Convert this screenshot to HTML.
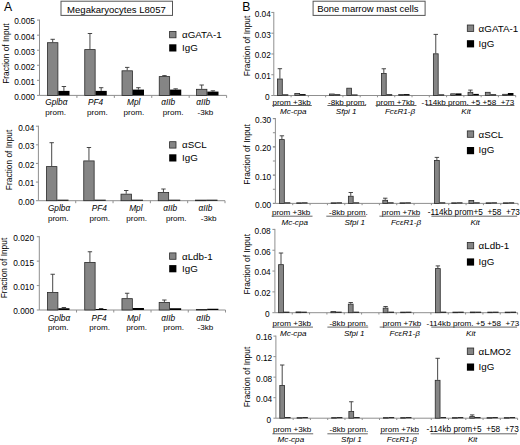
<!DOCTYPE html>
<html><head><meta charset="utf-8"><style>
html,body{margin:0;padding:0;background:#fff;}
body{width:520px;height:445px;overflow:hidden;}
svg{display:block;}
svg text{font-family:"Liberation Sans", sans-serif;fill:#000;white-space:pre;}
</style></head><body>
<svg width="520" height="445" viewBox="0 0 520 445" xml:space="preserve">
<rect width="520" height="445" fill="#fff"/>
<text x="3.9" y="11.4" font-size="12.2" text-anchor="start" >A</text>
<rect x="61" y="1.2" width="111.5" height="14.2" fill="none" stroke="#555" stroke-width="1"/>
<text x="67.1" y="12.9" font-size="9.55" text-anchor="start" >Megakaryocytes L8057</text>
<line x1="39.5" y1="19.6" x2="39.5" y2="95.4" stroke="#8f8f8f" stroke-width="1"/>
<line x1="37.0" y1="95.4" x2="39.5" y2="95.4" stroke="#8f8f8f" stroke-width="1"/>
<text x="34.9" y="99.799" font-size="8.3" text-anchor="end" >0.000</text>
<line x1="37.0" y1="80.34" x2="39.5" y2="80.34" stroke="#8f8f8f" stroke-width="1"/>
<text x="34.9" y="84.739" font-size="8.3" text-anchor="end" >0.001</text>
<line x1="37.0" y1="65.28" x2="39.5" y2="65.28" stroke="#8f8f8f" stroke-width="1"/>
<text x="34.9" y="69.679" font-size="8.3" text-anchor="end" >0.002</text>
<line x1="37.0" y1="50.22" x2="39.5" y2="50.22" stroke="#8f8f8f" stroke-width="1"/>
<text x="34.9" y="54.619" font-size="8.3" text-anchor="end" >0.003</text>
<line x1="37.0" y1="35.16" x2="39.5" y2="35.16" stroke="#8f8f8f" stroke-width="1"/>
<text x="34.9" y="39.559" font-size="8.3" text-anchor="end" >0.004</text>
<line x1="37.0" y1="20.099999999999994" x2="39.5" y2="20.099999999999994" stroke="#8f8f8f" stroke-width="1"/>
<text x="34.9" y="24.498999999999995" font-size="8.3" text-anchor="end" >0.005</text>
<line x1="39.5" y1="95.4" x2="226.6" y2="95.4" stroke="#8f8f8f" stroke-width="1"/>
<line x1="76.92" y1="95.4" x2="76.92" y2="97.9" stroke="#8f8f8f" stroke-width="1"/>
<line x1="114.34" y1="95.4" x2="114.34" y2="97.9" stroke="#8f8f8f" stroke-width="1"/>
<line x1="151.76" y1="95.4" x2="151.76" y2="97.9" stroke="#8f8f8f" stroke-width="1"/>
<line x1="189.18" y1="95.4" x2="189.18" y2="97.9" stroke="#8f8f8f" stroke-width="1"/>
<line x1="226.60000000000002" y1="95.4" x2="226.60000000000002" y2="97.9" stroke="#8f8f8f" stroke-width="1"/>
<line x1="52.7" y1="39.3" x2="52.7" y2="42.3" stroke="#333" stroke-width="0.9"/>
<line x1="50.5" y1="39.3" x2="54.900000000000006" y2="39.3" stroke="#333" stroke-width="0.9"/>
<rect x="47.50" y="42.70" width="10.40" height="52.70" fill="#858585" stroke="#2a2a2a" stroke-width="0.8"/>
<line x1="63.9" y1="86.5" x2="63.9" y2="90.9" stroke="#333" stroke-width="0.9"/>
<line x1="61.699999999999996" y1="86.5" x2="66.1" y2="86.5" stroke="#333" stroke-width="0.9"/>
<rect x="58.30" y="90.90" width="11.20" height="4.50" fill="#000"/>
<line x1="89.94999999999999" y1="33.5" x2="89.94999999999999" y2="49.2" stroke="#333" stroke-width="0.9"/>
<line x1="87.74999999999999" y1="33.5" x2="92.14999999999999" y2="33.5" stroke="#333" stroke-width="0.9"/>
<rect x="84.75" y="49.60" width="10.40" height="45.80" fill="#858585" stroke="#2a2a2a" stroke-width="0.8"/>
<line x1="101.14999999999999" y1="87.7" x2="101.14999999999999" y2="90.9" stroke="#333" stroke-width="0.9"/>
<line x1="98.94999999999999" y1="87.7" x2="103.35" y2="87.7" stroke="#333" stroke-width="0.9"/>
<rect x="95.55" y="90.90" width="11.20" height="4.50" fill="#000"/>
<line x1="127.19999999999999" y1="67.4" x2="127.19999999999999" y2="70.4" stroke="#333" stroke-width="0.9"/>
<line x1="124.99999999999999" y1="67.4" x2="129.39999999999998" y2="67.4" stroke="#333" stroke-width="0.9"/>
<rect x="122.00" y="70.80" width="10.40" height="24.60" fill="#858585" stroke="#2a2a2a" stroke-width="0.8"/>
<line x1="138.39999999999998" y1="87.7" x2="138.39999999999998" y2="89.6" stroke="#333" stroke-width="0.9"/>
<line x1="136.2" y1="87.7" x2="140.59999999999997" y2="87.7" stroke="#333" stroke-width="0.9"/>
<rect x="132.80" y="89.60" width="11.20" height="5.80" fill="#000"/>
<line x1="164.45" y1="75.6" x2="164.45" y2="76.2" stroke="#333" stroke-width="0.9"/>
<line x1="162.25" y1="75.6" x2="166.64999999999998" y2="75.6" stroke="#333" stroke-width="0.9"/>
<rect x="159.25" y="76.60" width="10.40" height="18.80" fill="#858585" stroke="#2a2a2a" stroke-width="0.8"/>
<line x1="175.64999999999998" y1="88.8" x2="175.64999999999998" y2="89.6" stroke="#333" stroke-width="0.9"/>
<line x1="173.45" y1="88.8" x2="177.84999999999997" y2="88.8" stroke="#333" stroke-width="0.9"/>
<rect x="170.05" y="89.60" width="11.20" height="5.80" fill="#000"/>
<line x1="201.7" y1="85.0" x2="201.7" y2="88.9" stroke="#333" stroke-width="0.9"/>
<line x1="199.5" y1="85.0" x2="203.89999999999998" y2="85.0" stroke="#333" stroke-width="0.9"/>
<rect x="196.50" y="89.30" width="10.40" height="6.10" fill="#858585" stroke="#2a2a2a" stroke-width="0.8"/>
<line x1="212.89999999999998" y1="90.8" x2="212.89999999999998" y2="91.6" stroke="#333" stroke-width="0.9"/>
<line x1="210.7" y1="90.8" x2="215.09999999999997" y2="90.8" stroke="#333" stroke-width="0.9"/>
<rect x="207.30" y="91.60" width="11.20" height="3.80" fill="#000"/>
<text x="0" y="0" font-size="8.4" text-anchor="middle" transform="translate(8.8,53.6) rotate(-90)">Fraction of Input</text>
<rect x="169.60" y="31.40" width="6.40" height="6.40" fill="#858585" stroke="#2a2a2a" stroke-width="0.8"/>
<rect x="169.20" y="44.30" width="7.20" height="7.20" fill="#000"/>
<text x="182.0" y="38.0" font-size="9.8" text-anchor="start" >&#945;GATA-1</text>
<text x="182.0" y="50.699999999999996" font-size="9.8" text-anchor="start" >IgG</text>
<text x="45.2" y="105" font-size="8.3" font-style="italic" text-anchor="start" >Gplb&#945;</text>
<text x="45.2" y="114.6" font-size="8.1" text-anchor="start" >prom.</text>
<text x="88.0" y="105" font-size="8.3" font-style="italic" text-anchor="start" >PF4</text>
<text x="87.0" y="114.6" font-size="8.1" text-anchor="start" >prom.</text>
<text x="127.0" y="105" font-size="8.3" font-style="italic" text-anchor="start" >Mpl</text>
<text x="123.6" y="114.6" font-size="8.1" text-anchor="start" >prom.</text>
<text x="161.2" y="105" font-size="8.3" font-style="italic" text-anchor="start" >&#945;IIb</text>
<text x="162.7" y="114.6" font-size="8.1" text-anchor="start" >prom.</text>
<text x="196.2" y="105" font-size="8.3" font-style="italic" text-anchor="start" >&#945;IIb</text>
<text x="197.6" y="114.6" font-size="8.1" text-anchor="start" >-3kb</text>
<line x1="38.4" y1="125.7" x2="38.4" y2="200.7" stroke="#8f8f8f" stroke-width="1"/>
<line x1="35.9" y1="200.7" x2="38.4" y2="200.7" stroke="#8f8f8f" stroke-width="1"/>
<text x="34.3" y="205.099" font-size="8.3" text-anchor="end" >0.00</text>
<line x1="35.9" y1="182.075" x2="38.4" y2="182.075" stroke="#8f8f8f" stroke-width="1"/>
<text x="34.3" y="186.474" font-size="8.3" text-anchor="end" >0.01</text>
<line x1="35.9" y1="163.45" x2="38.4" y2="163.45" stroke="#8f8f8f" stroke-width="1"/>
<text x="34.3" y="167.849" font-size="8.3" text-anchor="end" >0.02</text>
<line x1="35.9" y1="144.825" x2="38.4" y2="144.825" stroke="#8f8f8f" stroke-width="1"/>
<text x="34.3" y="149.224" font-size="8.3" text-anchor="end" >0.03</text>
<line x1="35.9" y1="126.2" x2="38.4" y2="126.2" stroke="#8f8f8f" stroke-width="1"/>
<text x="34.3" y="130.599" font-size="8.3" text-anchor="end" >0.04</text>
<line x1="38.4" y1="200.7" x2="225.0" y2="200.7" stroke="#8f8f8f" stroke-width="1"/>
<line x1="75.72" y1="200.7" x2="75.72" y2="203.2" stroke="#8f8f8f" stroke-width="1"/>
<line x1="113.03999999999999" y1="200.7" x2="113.03999999999999" y2="203.2" stroke="#8f8f8f" stroke-width="1"/>
<line x1="150.36" y1="200.7" x2="150.36" y2="203.2" stroke="#8f8f8f" stroke-width="1"/>
<line x1="187.68" y1="200.7" x2="187.68" y2="203.2" stroke="#8f8f8f" stroke-width="1"/>
<line x1="225.0" y1="200.7" x2="225.0" y2="203.2" stroke="#8f8f8f" stroke-width="1"/>
<line x1="51.7" y1="142.7" x2="51.7" y2="166.2" stroke="#333" stroke-width="0.9"/>
<line x1="49.5" y1="142.7" x2="53.900000000000006" y2="142.7" stroke="#333" stroke-width="0.9"/>
<rect x="46.50" y="166.60" width="10.40" height="34.10" fill="#858585" stroke="#2a2a2a" stroke-width="0.8"/>
<rect x="57.30" y="199.70" width="11.20" height="1.00" fill="#000"/>
<line x1="88.94999999999999" y1="147.5" x2="88.94999999999999" y2="160.5" stroke="#333" stroke-width="0.9"/>
<line x1="86.74999999999999" y1="147.5" x2="91.14999999999999" y2="147.5" stroke="#333" stroke-width="0.9"/>
<rect x="83.75" y="160.90" width="10.40" height="39.80" fill="#858585" stroke="#2a2a2a" stroke-width="0.8"/>
<rect x="94.55" y="199.70" width="11.20" height="1.00" fill="#000"/>
<line x1="126.19999999999999" y1="190.5" x2="126.19999999999999" y2="193.75" stroke="#333" stroke-width="0.9"/>
<line x1="123.99999999999999" y1="190.5" x2="128.39999999999998" y2="190.5" stroke="#333" stroke-width="0.9"/>
<rect x="121.00" y="194.15" width="10.40" height="6.55" fill="#858585" stroke="#2a2a2a" stroke-width="0.8"/>
<rect x="131.80" y="199.70" width="11.20" height="1.00" fill="#000"/>
<line x1="163.45" y1="189" x2="163.45" y2="192" stroke="#333" stroke-width="0.9"/>
<line x1="161.25" y1="189" x2="165.64999999999998" y2="189" stroke="#333" stroke-width="0.9"/>
<rect x="158.25" y="192.40" width="10.40" height="8.30" fill="#858585" stroke="#2a2a2a" stroke-width="0.8"/>
<rect x="169.05" y="199.70" width="11.20" height="1.00" fill="#000"/>
<rect x="195.50" y="200.10" width="10.40" height="0.60" fill="#858585" stroke="#2a2a2a" stroke-width="0.8"/>
<rect x="206.30" y="199.70" width="11.20" height="1.00" fill="#000"/>
<text x="0" y="0" font-size="8.4" text-anchor="middle" transform="translate(11.9,159.9) rotate(-90)">Fraction of Input</text>
<rect x="169.60" y="141.70" width="6.40" height="6.40" fill="#858585" stroke="#2a2a2a" stroke-width="0.8"/>
<rect x="169.20" y="154.30" width="7.20" height="7.20" fill="#000"/>
<text x="182.0" y="148.3" font-size="9.8" text-anchor="start" >&#945;SCL</text>
<text x="182.0" y="160.70000000000002" font-size="9.8" text-anchor="start" >IgG</text>
<text x="47.9" y="211.2" font-size="8.3" font-style="italic" text-anchor="start" >Gplb&#945;</text>
<text x="47.9" y="220.8" font-size="8.1" text-anchor="start" >prom.</text>
<text x="91.7" y="211.2" font-size="8.3" font-style="italic" text-anchor="start" >PF4</text>
<text x="89.4" y="220.8" font-size="8.1" text-anchor="start" >prom.</text>
<text x="129.2" y="211.2" font-size="8.3" font-style="italic" text-anchor="start" >Mpl</text>
<text x="126.2" y="220.8" font-size="8.1" text-anchor="start" >prom.</text>
<text x="163.2" y="211.2" font-size="8.3" font-style="italic" text-anchor="start" >&#945;IIb</text>
<text x="165.9" y="220.8" font-size="8.1" text-anchor="start" >prom.</text>
<text x="198.5" y="211.2" font-size="8.3" font-style="italic" text-anchor="start" >&#945;IIb</text>
<text x="200.8" y="220.8" font-size="8.1" text-anchor="start" >-3kb</text>
<line x1="39.3" y1="236.2" x2="39.3" y2="310.0" stroke="#8f8f8f" stroke-width="1"/>
<line x1="36.8" y1="310.0" x2="39.3" y2="310.0" stroke="#8f8f8f" stroke-width="1"/>
<text x="34.0" y="314.399" font-size="8.3" text-anchor="end" >0.000</text>
<line x1="36.8" y1="285.56666666666666" x2="39.3" y2="285.56666666666666" stroke="#8f8f8f" stroke-width="1"/>
<text x="34.0" y="289.96566666666666" font-size="8.3" text-anchor="end" >0.010</text>
<line x1="36.8" y1="261.1333333333333" x2="39.3" y2="261.1333333333333" stroke="#8f8f8f" stroke-width="1"/>
<text x="34.0" y="265.5323333333333" font-size="8.3" text-anchor="end" >0.015</text>
<line x1="36.8" y1="236.7" x2="39.3" y2="236.7" stroke="#8f8f8f" stroke-width="1"/>
<text x="34.0" y="241.099" font-size="8.3" text-anchor="end" >0.020</text>
<line x1="39.3" y1="310.0" x2="225.5" y2="310.0" stroke="#8f8f8f" stroke-width="1"/>
<line x1="76.53999999999999" y1="310.0" x2="76.53999999999999" y2="312.5" stroke="#8f8f8f" stroke-width="1"/>
<line x1="113.77999999999999" y1="310.0" x2="113.77999999999999" y2="312.5" stroke="#8f8f8f" stroke-width="1"/>
<line x1="151.01999999999998" y1="310.0" x2="151.01999999999998" y2="312.5" stroke="#8f8f8f" stroke-width="1"/>
<line x1="188.26" y1="310.0" x2="188.26" y2="312.5" stroke="#8f8f8f" stroke-width="1"/>
<line x1="225.5" y1="310.0" x2="225.5" y2="312.5" stroke="#8f8f8f" stroke-width="1"/>
<line x1="52.7" y1="274.25" x2="52.7" y2="292" stroke="#333" stroke-width="0.9"/>
<line x1="50.5" y1="274.25" x2="54.900000000000006" y2="274.25" stroke="#333" stroke-width="0.9"/>
<rect x="47.50" y="292.40" width="10.40" height="17.60" fill="#858585" stroke="#2a2a2a" stroke-width="0.8"/>
<line x1="63.9" y1="307.5" x2="63.9" y2="308.25" stroke="#333" stroke-width="0.9"/>
<line x1="61.699999999999996" y1="307.5" x2="66.1" y2="307.5" stroke="#333" stroke-width="0.9"/>
<rect x="58.30" y="308.25" width="11.20" height="1.75" fill="#000"/>
<line x1="89.91999999999999" y1="251.75" x2="89.91999999999999" y2="262" stroke="#333" stroke-width="0.9"/>
<line x1="87.71999999999998" y1="251.75" x2="92.11999999999999" y2="251.75" stroke="#333" stroke-width="0.9"/>
<rect x="84.72" y="262.40" width="10.40" height="47.60" fill="#858585" stroke="#2a2a2a" stroke-width="0.8"/>
<line x1="101.11999999999999" y1="308.5" x2="101.11999999999999" y2="309" stroke="#333" stroke-width="0.9"/>
<line x1="98.91999999999999" y1="308.5" x2="103.32" y2="308.5" stroke="#333" stroke-width="0.9"/>
<rect x="95.52" y="309.00" width="11.20" height="1.00" fill="#000"/>
<line x1="127.13999999999999" y1="293.25" x2="127.13999999999999" y2="298.25" stroke="#333" stroke-width="0.9"/>
<line x1="124.93999999999998" y1="293.25" x2="129.33999999999997" y2="293.25" stroke="#333" stroke-width="0.9"/>
<rect x="121.94" y="298.65" width="10.40" height="11.35" fill="#858585" stroke="#2a2a2a" stroke-width="0.8"/>
<rect x="132.74" y="308.00" width="11.20" height="2.00" fill="#000"/>
<line x1="164.35999999999999" y1="300" x2="164.35999999999999" y2="302" stroke="#333" stroke-width="0.9"/>
<line x1="162.16" y1="300" x2="166.55999999999997" y2="300" stroke="#333" stroke-width="0.9"/>
<rect x="159.16" y="302.40" width="10.40" height="7.60" fill="#858585" stroke="#2a2a2a" stroke-width="0.8"/>
<rect x="169.96" y="308.25" width="11.20" height="1.75" fill="#000"/>
<rect x="196.38" y="309.40" width="10.40" height="0.60" fill="#858585" stroke="#2a2a2a" stroke-width="0.8"/>
<rect x="207.18" y="308.75" width="11.20" height="1.25" fill="#000"/>
<text x="0" y="0" font-size="8.4" text-anchor="middle" transform="translate(7.0,268.0) rotate(-90)">Fraction of Input</text>
<rect x="169.60" y="252.90" width="6.40" height="6.40" fill="#858585" stroke="#2a2a2a" stroke-width="0.8"/>
<rect x="169.20" y="265.10" width="7.20" height="7.20" fill="#000"/>
<text x="182.0" y="259.5" font-size="9.8" text-anchor="start" >&#945;Ldb-1</text>
<text x="182.0" y="271.5" font-size="9.8" text-anchor="start" >IgG</text>
<text x="47.9" y="320.6" font-size="8.3" font-style="italic" text-anchor="start" >Gplb&#945;</text>
<text x="47.9" y="330.2" font-size="8.1" text-anchor="start" >prom.</text>
<text x="91.4" y="320.6" font-size="8.3" font-style="italic" text-anchor="start" >PF4</text>
<text x="89.3" y="330.2" font-size="8.1" text-anchor="start" >prom.</text>
<text x="126.9" y="320.6" font-size="8.3" font-style="italic" text-anchor="start" >Mpl</text>
<text x="126.2" y="330.2" font-size="8.1" text-anchor="start" >prom.</text>
<text x="161.2" y="320.6" font-size="8.3" font-style="italic" text-anchor="start" >&#945;IIb</text>
<text x="163.3" y="330.2" font-size="8.1" text-anchor="start" >prom.</text>
<text x="196.2" y="320.6" font-size="8.3" font-style="italic" text-anchor="start" >&#945;IIb</text>
<text x="197.6" y="330.2" font-size="8.1" text-anchor="start" >-3kb</text>
<text x="242.2" y="11.0" font-size="12.2" text-anchor="start" >B</text>
<rect x="313.1" y="1.2" width="112" height="14.2" fill="none" stroke="#555" stroke-width="1"/>
<text x="317.2" y="12.3" font-size="9.5" text-anchor="start" >Bone marrow mast cells</text>
<line x1="273.8" y1="11.95" x2="273.8" y2="95.5" stroke="#8f8f8f" stroke-width="1"/>
<line x1="271.3" y1="95.5" x2="273.8" y2="95.5" stroke="#8f8f8f" stroke-width="1"/>
<text x="269.6" y="99.899" font-size="8.3" text-anchor="end" >0</text>
<line x1="271.3" y1="74.7375" x2="273.8" y2="74.7375" stroke="#8f8f8f" stroke-width="1"/>
<text x="270.8" y="79.1365" font-size="8.3" text-anchor="end" >0.01</text>
<line x1="271.3" y1="53.975" x2="273.8" y2="53.975" stroke="#8f8f8f" stroke-width="1"/>
<text x="270.8" y="58.374" font-size="8.3" text-anchor="end" >0.02</text>
<line x1="271.3" y1="33.212500000000006" x2="273.8" y2="33.212500000000006" stroke="#8f8f8f" stroke-width="1"/>
<text x="270.8" y="37.61150000000001" font-size="8.3" text-anchor="end" >0.03</text>
<line x1="271.3" y1="12.450000000000003" x2="273.8" y2="12.450000000000003" stroke="#8f8f8f" stroke-width="1"/>
<text x="270.8" y="16.849000000000004" font-size="8.3" text-anchor="end" >0.04</text>
<line x1="273.8" y1="95.5" x2="515.7" y2="95.5" stroke="#8f8f8f" stroke-width="1"/>
<line x1="291.0785714285714" y1="95.5" x2="291.0785714285714" y2="97.3" stroke="#8f8f8f" stroke-width="1"/>
<line x1="308.3571428571429" y1="95.5" x2="308.3571428571429" y2="97.3" stroke="#8f8f8f" stroke-width="1"/>
<line x1="325.6357142857143" y1="95.5" x2="325.6357142857143" y2="97.3" stroke="#8f8f8f" stroke-width="1"/>
<line x1="342.9142857142857" y1="95.5" x2="342.9142857142857" y2="97.3" stroke="#8f8f8f" stroke-width="1"/>
<line x1="360.1928571428572" y1="95.5" x2="360.1928571428572" y2="97.3" stroke="#8f8f8f" stroke-width="1"/>
<line x1="377.4714285714286" y1="95.5" x2="377.4714285714286" y2="97.3" stroke="#8f8f8f" stroke-width="1"/>
<line x1="394.75" y1="95.5" x2="394.75" y2="97.3" stroke="#8f8f8f" stroke-width="1"/>
<line x1="412.02857142857147" y1="95.5" x2="412.02857142857147" y2="97.3" stroke="#8f8f8f" stroke-width="1"/>
<line x1="429.30714285714294" y1="95.5" x2="429.30714285714294" y2="97.3" stroke="#8f8f8f" stroke-width="1"/>
<line x1="446.58571428571435" y1="95.5" x2="446.58571428571435" y2="97.3" stroke="#8f8f8f" stroke-width="1"/>
<line x1="463.86428571428576" y1="95.5" x2="463.86428571428576" y2="97.3" stroke="#8f8f8f" stroke-width="1"/>
<line x1="481.1428571428572" y1="95.5" x2="481.1428571428572" y2="97.3" stroke="#8f8f8f" stroke-width="1"/>
<line x1="498.42142857142863" y1="95.5" x2="498.42142857142863" y2="97.3" stroke="#8f8f8f" stroke-width="1"/>
<line x1="515.7" y1="95.5" x2="515.7" y2="97.3" stroke="#8f8f8f" stroke-width="1"/>
<line x1="279.90000000000003" y1="68.7" x2="279.90000000000003" y2="78.6" stroke="#333" stroke-width="0.9"/>
<line x1="277.70000000000005" y1="68.7" x2="282.1" y2="68.7" stroke="#333" stroke-width="0.9"/>
<rect x="277.50" y="79.00" width="4.80" height="16.50" fill="#858585" stroke="#2a2a2a" stroke-width="0.8"/>
<rect x="282.70" y="94.40" width="5.60" height="1.10" fill="#000"/>
<rect x="294.82" y="93.50" width="4.80" height="2.00" fill="#858585" stroke="#2a2a2a" stroke-width="0.8"/>
<rect x="300.02" y="94.10" width="5.60" height="1.40" fill="#000"/>
<rect x="329.46" y="94.00" width="4.80" height="1.50" fill="#858585" stroke="#2a2a2a" stroke-width="0.8"/>
<rect x="334.66" y="94.30" width="5.60" height="1.20" fill="#000"/>
<rect x="346.78" y="88.20" width="4.80" height="7.30" fill="#858585" stroke="#2a2a2a" stroke-width="0.8"/>
<rect x="351.98" y="94.50" width="5.60" height="1.00" fill="#000"/>
<line x1="383.82000000000005" y1="68.75" x2="383.82000000000005" y2="73" stroke="#333" stroke-width="0.9"/>
<line x1="381.62000000000006" y1="68.75" x2="386.02000000000004" y2="68.75" stroke="#333" stroke-width="0.9"/>
<rect x="381.42" y="73.40" width="4.80" height="22.10" fill="#858585" stroke="#2a2a2a" stroke-width="0.8"/>
<rect x="386.62" y="94.30" width="5.60" height="1.20" fill="#000"/>
<rect x="398.74" y="94.50" width="4.80" height="1.00" fill="#858585" stroke="#2a2a2a" stroke-width="0.8"/>
<rect x="403.94" y="94.10" width="5.60" height="1.40" fill="#000"/>
<line x1="435.78000000000003" y1="34.4" x2="435.78000000000003" y2="53.4" stroke="#333" stroke-width="0.9"/>
<line x1="433.58000000000004" y1="34.4" x2="437.98" y2="34.4" stroke="#333" stroke-width="0.9"/>
<rect x="433.38" y="53.80" width="4.80" height="41.70" fill="#858585" stroke="#2a2a2a" stroke-width="0.8"/>
<rect x="438.58" y="94.40" width="5.60" height="1.10" fill="#000"/>
<rect x="450.70" y="93.80" width="4.80" height="1.70" fill="#858585" stroke="#2a2a2a" stroke-width="0.8"/>
<rect x="455.90" y="93.40" width="5.60" height="2.10" fill="#000"/>
<line x1="470.42" y1="90.1" x2="470.42" y2="91.89999999999999" stroke="#333" stroke-width="0.9"/>
<line x1="468.22" y1="90.1" x2="472.62" y2="90.1" stroke="#333" stroke-width="0.9"/>
<rect x="468.02" y="92.30" width="4.80" height="3.20" fill="#858585" stroke="#2a2a2a" stroke-width="0.8"/>
<rect x="473.22" y="93.90" width="5.60" height="1.60" fill="#000"/>
<rect x="485.34" y="92.30" width="4.80" height="3.20" fill="#858585" stroke="#2a2a2a" stroke-width="0.8"/>
<rect x="490.54" y="94.30" width="5.60" height="1.20" fill="#000"/>
<rect x="502.66" y="94.30" width="4.80" height="1.20" fill="#858585" stroke="#2a2a2a" stroke-width="0.8"/>
<rect x="507.86" y="93.00" width="5.60" height="2.50" fill="#000"/>
<text x="0" y="0" font-size="8.4" text-anchor="middle" transform="translate(250.1,45.9) rotate(-90)">Fraction of Input</text>
<rect x="467.30" y="25.00" width="6.40" height="6.40" fill="#858585" stroke="#2a2a2a" stroke-width="0.8"/>
<rect x="466.90" y="40.20" width="7.20" height="7.20" fill="#000"/>
<text x="478.6" y="31.6" font-size="9.8" text-anchor="start" >&#945;GATA-1</text>
<text x="478.6" y="46.6" font-size="9.8" text-anchor="start" >IgG</text>
<text x="272.4" y="105.0" font-size="8.1" text-anchor="start" >prom +3kb</text>
<line x1="272.3" y1="105.5" x2="311.8" y2="105.5" stroke="#555" stroke-width="0.9"/>
<text x="280.0" y="114.2" font-size="8.1" font-style="italic" text-anchor="start" >Mc-cpa</text>
<text x="328.0" y="105.0" font-size="8.1" text-anchor="start" >-8kb prom.</text>
<line x1="327.4" y1="105.5" x2="366.1" y2="105.5" stroke="#555" stroke-width="0.9"/>
<text x="335.8" y="114.2" font-size="8.1" font-style="italic" text-anchor="start" >Sfpi 1</text>
<text x="376.1" y="105.0" font-size="8.1" text-anchor="start" >prom +7kb</text>
<line x1="375.6" y1="105.5" x2="416.5" y2="105.5" stroke="#555" stroke-width="0.9"/>
<text x="384.9" y="114.2" font-size="8.1" font-style="italic" text-anchor="start" >Fc&#949;R1-&#946;</text>
<text x="421.6" y="105.0" font-size="8.1" text-anchor="start" >-114kb prom. +5 +58  +73</text>
<line x1="426.1" y1="105.5" x2="514.4" y2="105.5" stroke="#555" stroke-width="0.9"/>
<text x="461.3" y="114.2" font-size="8.1" font-style="italic" text-anchor="start" >Kit</text>
<line x1="272.9" y1="203.4" x2="275.4" y2="203.4" stroke="#8f8f8f" stroke-width="1"/>
<line x1="272.9" y1="189.26666666666668" x2="275.4" y2="189.26666666666668" stroke="#8f8f8f" stroke-width="1"/>
<line x1="272.9" y1="175.13333333333333" x2="275.4" y2="175.13333333333333" stroke="#8f8f8f" stroke-width="1"/>
<line x1="272.9" y1="161.0" x2="275.4" y2="161.0" stroke="#8f8f8f" stroke-width="1"/>
<line x1="272.9" y1="146.86666666666667" x2="275.4" y2="146.86666666666667" stroke="#8f8f8f" stroke-width="1"/>
<line x1="272.9" y1="132.73333333333335" x2="275.4" y2="132.73333333333335" stroke="#8f8f8f" stroke-width="1"/>
<line x1="272.9" y1="118.6" x2="275.4" y2="118.6" stroke="#8f8f8f" stroke-width="1"/>
<line x1="275.4" y1="118.1" x2="275.4" y2="203.4" stroke="#8f8f8f" stroke-width="1"/>
<line x1="272.9" y1="203.4" x2="275.4" y2="203.4" stroke="#8f8f8f" stroke-width="1"/>
<text x="271.2" y="207.799" font-size="8.3" text-anchor="end" >0.00</text>
<line x1="272.9" y1="175.13333333333333" x2="275.4" y2="175.13333333333333" stroke="#8f8f8f" stroke-width="1"/>
<text x="271.2" y="179.53233333333333" font-size="8.3" text-anchor="end" >0.10</text>
<line x1="272.9" y1="146.86666666666667" x2="275.4" y2="146.86666666666667" stroke="#8f8f8f" stroke-width="1"/>
<text x="271.2" y="151.26566666666668" font-size="8.3" text-anchor="end" >0.20</text>
<line x1="272.9" y1="118.6" x2="275.4" y2="118.6" stroke="#8f8f8f" stroke-width="1"/>
<text x="271.2" y="122.999" font-size="8.3" text-anchor="end" >0.30</text>
<line x1="275.4" y1="203.4" x2="518.1" y2="203.4" stroke="#8f8f8f" stroke-width="1"/>
<line x1="292.73571428571427" y1="203.4" x2="292.73571428571427" y2="205.20000000000002" stroke="#8f8f8f" stroke-width="1"/>
<line x1="310.07142857142856" y1="203.4" x2="310.07142857142856" y2="205.20000000000002" stroke="#8f8f8f" stroke-width="1"/>
<line x1="327.40714285714284" y1="203.4" x2="327.40714285714284" y2="205.20000000000002" stroke="#8f8f8f" stroke-width="1"/>
<line x1="344.74285714285713" y1="203.4" x2="344.74285714285713" y2="205.20000000000002" stroke="#8f8f8f" stroke-width="1"/>
<line x1="362.0785714285714" y1="203.4" x2="362.0785714285714" y2="205.20000000000002" stroke="#8f8f8f" stroke-width="1"/>
<line x1="379.4142857142857" y1="203.4" x2="379.4142857142857" y2="205.20000000000002" stroke="#8f8f8f" stroke-width="1"/>
<line x1="396.75" y1="203.4" x2="396.75" y2="205.20000000000002" stroke="#8f8f8f" stroke-width="1"/>
<line x1="414.0857142857143" y1="203.4" x2="414.0857142857143" y2="205.20000000000002" stroke="#8f8f8f" stroke-width="1"/>
<line x1="431.4214285714286" y1="203.4" x2="431.4214285714286" y2="205.20000000000002" stroke="#8f8f8f" stroke-width="1"/>
<line x1="448.75714285714287" y1="203.4" x2="448.75714285714287" y2="205.20000000000002" stroke="#8f8f8f" stroke-width="1"/>
<line x1="466.09285714285716" y1="203.4" x2="466.09285714285716" y2="205.20000000000002" stroke="#8f8f8f" stroke-width="1"/>
<line x1="483.42857142857144" y1="203.4" x2="483.42857142857144" y2="205.20000000000002" stroke="#8f8f8f" stroke-width="1"/>
<line x1="500.76428571428573" y1="203.4" x2="500.76428571428573" y2="205.20000000000002" stroke="#8f8f8f" stroke-width="1"/>
<line x1="518.1" y1="203.4" x2="518.1" y2="205.20000000000002" stroke="#8f8f8f" stroke-width="1"/>
<line x1="281.90000000000003" y1="135.8" x2="281.90000000000003" y2="139.2" stroke="#333" stroke-width="0.9"/>
<line x1="279.70000000000005" y1="135.8" x2="284.1" y2="135.8" stroke="#333" stroke-width="0.9"/>
<rect x="279.50" y="139.60" width="4.80" height="63.80" fill="#858585" stroke="#2a2a2a" stroke-width="0.8"/>
<rect x="284.70" y="202.40" width="5.60" height="1.00" fill="#000"/>
<rect x="296.72" y="202.80" width="4.80" height="0.60" fill="#858585" stroke="#2a2a2a" stroke-width="0.8"/>
<rect x="301.92" y="202.40" width="5.60" height="1.00" fill="#000"/>
<rect x="331.16" y="202.80" width="4.80" height="0.60" fill="#858585" stroke="#2a2a2a" stroke-width="0.8"/>
<rect x="336.36" y="202.40" width="5.60" height="1.00" fill="#000"/>
<line x1="350.78000000000003" y1="192.5" x2="350.78000000000003" y2="195.85" stroke="#333" stroke-width="0.9"/>
<line x1="348.58000000000004" y1="192.5" x2="352.98" y2="192.5" stroke="#333" stroke-width="0.9"/>
<rect x="348.38" y="196.25" width="4.80" height="7.15" fill="#858585" stroke="#2a2a2a" stroke-width="0.8"/>
<rect x="353.58" y="202.40" width="5.60" height="1.00" fill="#000"/>
<line x1="385.22" y1="198.2" x2="385.22" y2="199.9" stroke="#333" stroke-width="0.9"/>
<line x1="383.02000000000004" y1="198.2" x2="387.42" y2="198.2" stroke="#333" stroke-width="0.9"/>
<rect x="382.82" y="200.30" width="4.80" height="3.10" fill="#858585" stroke="#2a2a2a" stroke-width="0.8"/>
<rect x="388.02" y="202.40" width="5.60" height="1.00" fill="#000"/>
<rect x="400.04" y="202.80" width="4.80" height="0.60" fill="#858585" stroke="#2a2a2a" stroke-width="0.8"/>
<rect x="405.24" y="202.40" width="5.60" height="1.00" fill="#000"/>
<line x1="436.88000000000005" y1="157.4" x2="436.88000000000005" y2="160.0" stroke="#333" stroke-width="0.9"/>
<line x1="434.68000000000006" y1="157.4" x2="439.08000000000004" y2="157.4" stroke="#333" stroke-width="0.9"/>
<rect x="434.48" y="160.40" width="4.80" height="43.00" fill="#858585" stroke="#2a2a2a" stroke-width="0.8"/>
<rect x="439.68" y="202.40" width="5.60" height="1.00" fill="#000"/>
<rect x="451.70" y="202.80" width="4.80" height="0.60" fill="#858585" stroke="#2a2a2a" stroke-width="0.8"/>
<rect x="456.90" y="202.40" width="5.60" height="1.00" fill="#000"/>
<rect x="468.92" y="200.50" width="4.80" height="2.90" fill="#858585" stroke="#2a2a2a" stroke-width="0.8"/>
<rect x="474.12" y="202.40" width="5.60" height="1.00" fill="#000"/>
<rect x="486.14" y="202.80" width="4.80" height="0.60" fill="#858585" stroke="#2a2a2a" stroke-width="0.8"/>
<rect x="491.34" y="202.40" width="5.60" height="1.00" fill="#000"/>
<rect x="503.36" y="202.80" width="4.80" height="0.60" fill="#858585" stroke="#2a2a2a" stroke-width="0.8"/>
<rect x="508.56" y="202.40" width="5.60" height="1.00" fill="#000"/>
<text x="0" y="0" font-size="8.4" text-anchor="middle" transform="translate(249.9,154.4) rotate(-90)">Fraction of Input</text>
<rect x="467.30" y="130.90" width="6.40" height="6.40" fill="#858585" stroke="#2a2a2a" stroke-width="0.8"/>
<rect x="466.90" y="147.00" width="7.20" height="7.20" fill="#000"/>
<text x="478.6" y="137.5" font-size="9.8" text-anchor="start" >&#945;SCL</text>
<text x="478.6" y="153.4" font-size="9.8" text-anchor="start" >IgG</text>
<text x="271.9" y="215.0" font-size="8.1" text-anchor="start" >prom +3kb</text>
<line x1="271.6" y1="216.2" x2="312.5" y2="216.2" stroke="#555" stroke-width="0.9"/>
<text x="281.4" y="225.0" font-size="8.1" font-style="italic" text-anchor="start" >Mc-cpa</text>
<text x="329.0" y="215.0" font-size="8.1" text-anchor="start" >-8kb prom.</text>
<line x1="326.3" y1="216.2" x2="366.1" y2="216.2" stroke="#555" stroke-width="0.9"/>
<text x="344.4" y="225.0" font-size="8.1" font-style="italic" text-anchor="start" >Sfpi 1</text>
<text x="381.8" y="215.0" font-size="8.1" text-anchor="start" >prom +7kb</text>
<line x1="379.4" y1="216.2" x2="419.8" y2="216.2" stroke="#555" stroke-width="0.9"/>
<text x="390.9" y="225.0" font-size="8.1" font-style="italic" text-anchor="start" >Fc&#949;R1-&#946;</text>
<text x="427.7" y="215.0" font-size="8.25" text-anchor="start" >-114kb prom+5  +58  +73</text>
<line x1="431.4" y1="216.2" x2="517.2" y2="216.2" stroke="#555" stroke-width="0.9"/>
<text x="470.4" y="225.0" font-size="8.1" font-style="italic" text-anchor="start" >Kit</text>
<line x1="274.9" y1="228.9" x2="274.9" y2="312.7" stroke="#8f8f8f" stroke-width="1"/>
<line x1="272.4" y1="312.7" x2="274.9" y2="312.7" stroke="#8f8f8f" stroke-width="1"/>
<text x="269.5" y="317.099" font-size="8.3" text-anchor="end" >0</text>
<line x1="272.4" y1="291.875" x2="274.9" y2="291.875" stroke="#8f8f8f" stroke-width="1"/>
<text x="270.7" y="296.274" font-size="8.3" text-anchor="end" >0.02</text>
<line x1="272.4" y1="271.05" x2="274.9" y2="271.05" stroke="#8f8f8f" stroke-width="1"/>
<text x="270.7" y="275.449" font-size="8.3" text-anchor="end" >0.04</text>
<line x1="272.4" y1="250.225" x2="274.9" y2="250.225" stroke="#8f8f8f" stroke-width="1"/>
<text x="270.7" y="254.624" font-size="8.3" text-anchor="end" >0.06</text>
<line x1="272.4" y1="229.4" x2="274.9" y2="229.4" stroke="#8f8f8f" stroke-width="1"/>
<text x="270.7" y="233.799" font-size="8.3" text-anchor="end" >0.08</text>
<line x1="274.9" y1="312.7" x2="517.6" y2="312.7" stroke="#8f8f8f" stroke-width="1"/>
<line x1="292.23571428571427" y1="312.7" x2="292.23571428571427" y2="314.5" stroke="#8f8f8f" stroke-width="1"/>
<line x1="309.57142857142856" y1="312.7" x2="309.57142857142856" y2="314.5" stroke="#8f8f8f" stroke-width="1"/>
<line x1="326.90714285714284" y1="312.7" x2="326.90714285714284" y2="314.5" stroke="#8f8f8f" stroke-width="1"/>
<line x1="344.24285714285713" y1="312.7" x2="344.24285714285713" y2="314.5" stroke="#8f8f8f" stroke-width="1"/>
<line x1="361.5785714285714" y1="312.7" x2="361.5785714285714" y2="314.5" stroke="#8f8f8f" stroke-width="1"/>
<line x1="378.9142857142857" y1="312.7" x2="378.9142857142857" y2="314.5" stroke="#8f8f8f" stroke-width="1"/>
<line x1="396.25" y1="312.7" x2="396.25" y2="314.5" stroke="#8f8f8f" stroke-width="1"/>
<line x1="413.5857142857143" y1="312.7" x2="413.5857142857143" y2="314.5" stroke="#8f8f8f" stroke-width="1"/>
<line x1="430.9214285714286" y1="312.7" x2="430.9214285714286" y2="314.5" stroke="#8f8f8f" stroke-width="1"/>
<line x1="448.25714285714287" y1="312.7" x2="448.25714285714287" y2="314.5" stroke="#8f8f8f" stroke-width="1"/>
<line x1="465.59285714285716" y1="312.7" x2="465.59285714285716" y2="314.5" stroke="#8f8f8f" stroke-width="1"/>
<line x1="482.92857142857144" y1="312.7" x2="482.92857142857144" y2="314.5" stroke="#8f8f8f" stroke-width="1"/>
<line x1="500.26428571428573" y1="312.7" x2="500.26428571428573" y2="314.5" stroke="#8f8f8f" stroke-width="1"/>
<line x1="517.6" y1="312.7" x2="517.6" y2="314.5" stroke="#8f8f8f" stroke-width="1"/>
<line x1="281.0" y1="253" x2="281.0" y2="264.25" stroke="#333" stroke-width="0.9"/>
<line x1="278.8" y1="253" x2="283.2" y2="253" stroke="#333" stroke-width="0.9"/>
<rect x="278.60" y="264.65" width="4.80" height="48.05" fill="#858585" stroke="#2a2a2a" stroke-width="0.8"/>
<rect x="283.80" y="311.70" width="5.60" height="1.00" fill="#000"/>
<rect x="296.03" y="311.90" width="4.80" height="0.80" fill="#858585" stroke="#2a2a2a" stroke-width="0.8"/>
<rect x="301.23" y="311.70" width="5.60" height="1.00" fill="#000"/>
<rect x="330.89" y="311.60" width="4.80" height="1.10" fill="#858585" stroke="#2a2a2a" stroke-width="0.8"/>
<rect x="336.09" y="311.70" width="5.60" height="1.00" fill="#000"/>
<line x1="350.71999999999997" y1="302.5" x2="350.71999999999997" y2="303.75" stroke="#333" stroke-width="0.9"/>
<line x1="348.52" y1="302.5" x2="352.91999999999996" y2="302.5" stroke="#333" stroke-width="0.9"/>
<rect x="348.32" y="304.15" width="4.80" height="8.55" fill="#858585" stroke="#2a2a2a" stroke-width="0.8"/>
<rect x="353.52" y="311.70" width="5.60" height="1.00" fill="#000"/>
<line x1="385.58" y1="306.5" x2="385.58" y2="307.7" stroke="#333" stroke-width="0.9"/>
<line x1="383.38" y1="306.5" x2="387.78" y2="306.5" stroke="#333" stroke-width="0.9"/>
<rect x="383.18" y="308.10" width="4.80" height="4.60" fill="#858585" stroke="#2a2a2a" stroke-width="0.8"/>
<rect x="388.38" y="311.70" width="5.60" height="1.00" fill="#000"/>
<rect x="400.61" y="312.10" width="4.80" height="0.60" fill="#858585" stroke="#2a2a2a" stroke-width="0.8"/>
<rect x="405.81" y="311.70" width="5.60" height="1.00" fill="#000"/>
<line x1="437.87" y1="265.9" x2="437.87" y2="268.2" stroke="#333" stroke-width="0.9"/>
<line x1="435.67" y1="265.9" x2="440.07" y2="265.9" stroke="#333" stroke-width="0.9"/>
<rect x="435.47" y="268.60" width="4.80" height="44.10" fill="#858585" stroke="#2a2a2a" stroke-width="0.8"/>
<rect x="440.67" y="311.70" width="5.60" height="1.00" fill="#000"/>
<rect x="452.90" y="312.10" width="4.80" height="0.60" fill="#858585" stroke="#2a2a2a" stroke-width="0.8"/>
<rect x="458.10" y="311.70" width="5.60" height="1.00" fill="#000"/>
<rect x="470.33" y="312.00" width="4.80" height="0.70" fill="#858585" stroke="#2a2a2a" stroke-width="0.8"/>
<rect x="475.53" y="311.70" width="5.60" height="1.00" fill="#000"/>
<rect x="487.76" y="312.10" width="4.80" height="0.60" fill="#858585" stroke="#2a2a2a" stroke-width="0.8"/>
<rect x="492.96" y="311.70" width="5.60" height="1.00" fill="#000"/>
<rect x="505.19" y="312.10" width="4.80" height="0.60" fill="#858585" stroke="#2a2a2a" stroke-width="0.8"/>
<rect x="510.39" y="311.70" width="5.60" height="1.00" fill="#000"/>
<text x="0" y="0" font-size="8.4" text-anchor="middle" transform="translate(250.1,264.3) rotate(-90)">Fraction of Input</text>
<rect x="467.30" y="242.40" width="6.40" height="6.40" fill="#858585" stroke="#2a2a2a" stroke-width="0.8"/>
<rect x="466.90" y="258.40" width="7.20" height="7.20" fill="#000"/>
<text x="478.6" y="249.0" font-size="9.8" text-anchor="start" >&#945;Ldb-1</text>
<text x="478.6" y="264.79999999999995" font-size="9.8" text-anchor="start" >IgG</text>
<text x="272.5" y="325.7" font-size="8.1" text-anchor="start" >prom +3kb</text>
<line x1="272.4" y1="327.1" x2="313.0" y2="327.1" stroke="#555" stroke-width="0.9"/>
<text x="279.9" y="335.75" font-size="8.1" font-style="italic" text-anchor="start" >Mc-cpa</text>
<text x="329.4" y="325.7" font-size="8.1" text-anchor="start" >-8kb prom.</text>
<line x1="327.4" y1="327.1" x2="368.2" y2="327.1" stroke="#555" stroke-width="0.9"/>
<text x="343.9" y="335.75" font-size="8.1" font-style="italic" text-anchor="start" >Sfpi 1</text>
<text x="382.8" y="325.7" font-size="8.1" text-anchor="start" >prom +7kb</text>
<line x1="379.7" y1="327.1" x2="420.0" y2="327.1" stroke="#555" stroke-width="0.9"/>
<text x="389.6" y="335.75" font-size="8.1" font-style="italic" text-anchor="start" >Fc&#949;R1-&#946;</text>
<text x="426.5" y="325.7" font-size="8.1" text-anchor="start" >-114kb prom. +5 +58  +73</text>
<line x1="431.3" y1="327.1" x2="517.1" y2="327.1" stroke="#555" stroke-width="0.9"/>
<text x="466.0" y="335.75" font-size="8.1" font-style="italic" text-anchor="start" >Kit</text>
<line x1="275.9" y1="335.6" x2="275.9" y2="418.2" stroke="#8f8f8f" stroke-width="1"/>
<line x1="273.4" y1="418.2" x2="275.9" y2="418.2" stroke="#8f8f8f" stroke-width="1"/>
<text x="271.0" y="422.599" font-size="8.3" text-anchor="end" >0</text>
<line x1="273.4" y1="397.675" x2="275.9" y2="397.675" stroke="#8f8f8f" stroke-width="1"/>
<text x="272.2" y="402.074" font-size="8.3" text-anchor="end" >0.04</text>
<line x1="273.4" y1="377.15" x2="275.9" y2="377.15" stroke="#8f8f8f" stroke-width="1"/>
<text x="272.2" y="381.549" font-size="8.3" text-anchor="end" >0.08</text>
<line x1="273.4" y1="356.625" x2="275.9" y2="356.625" stroke="#8f8f8f" stroke-width="1"/>
<text x="272.2" y="361.024" font-size="8.3" text-anchor="end" >0.12</text>
<line x1="273.4" y1="336.1" x2="275.9" y2="336.1" stroke="#8f8f8f" stroke-width="1"/>
<text x="272.2" y="340.499" font-size="8.3" text-anchor="end" >0.16</text>
<line x1="275.9" y1="418.2" x2="517.6" y2="418.2" stroke="#8f8f8f" stroke-width="1"/>
<line x1="293.1642857142857" y1="418.2" x2="293.1642857142857" y2="420.0" stroke="#8f8f8f" stroke-width="1"/>
<line x1="310.4285714285714" y1="418.2" x2="310.4285714285714" y2="420.0" stroke="#8f8f8f" stroke-width="1"/>
<line x1="327.6928571428571" y1="418.2" x2="327.6928571428571" y2="420.0" stroke="#8f8f8f" stroke-width="1"/>
<line x1="344.95714285714286" y1="418.2" x2="344.95714285714286" y2="420.0" stroke="#8f8f8f" stroke-width="1"/>
<line x1="362.22142857142853" y1="418.2" x2="362.22142857142853" y2="420.0" stroke="#8f8f8f" stroke-width="1"/>
<line x1="379.48571428571427" y1="418.2" x2="379.48571428571427" y2="420.0" stroke="#8f8f8f" stroke-width="1"/>
<line x1="396.75" y1="418.2" x2="396.75" y2="420.0" stroke="#8f8f8f" stroke-width="1"/>
<line x1="414.01428571428573" y1="418.2" x2="414.01428571428573" y2="420.0" stroke="#8f8f8f" stroke-width="1"/>
<line x1="431.2785714285714" y1="418.2" x2="431.2785714285714" y2="420.0" stroke="#8f8f8f" stroke-width="1"/>
<line x1="448.54285714285714" y1="418.2" x2="448.54285714285714" y2="420.0" stroke="#8f8f8f" stroke-width="1"/>
<line x1="465.8071428571428" y1="418.2" x2="465.8071428571428" y2="420.0" stroke="#8f8f8f" stroke-width="1"/>
<line x1="483.07142857142856" y1="418.2" x2="483.07142857142856" y2="420.0" stroke="#8f8f8f" stroke-width="1"/>
<line x1="500.3357142857143" y1="418.2" x2="500.3357142857143" y2="420.0" stroke="#8f8f8f" stroke-width="1"/>
<line x1="517.6" y1="418.2" x2="517.6" y2="420.0" stroke="#8f8f8f" stroke-width="1"/>
<line x1="282.2" y1="365" x2="282.2" y2="385" stroke="#333" stroke-width="0.9"/>
<line x1="280.0" y1="365" x2="284.4" y2="365" stroke="#333" stroke-width="0.9"/>
<rect x="279.80" y="385.40" width="4.80" height="32.80" fill="#858585" stroke="#2a2a2a" stroke-width="0.8"/>
<rect x="285.00" y="417.20" width="5.60" height="1.00" fill="#000"/>
<rect x="297.07" y="417.60" width="4.80" height="0.60" fill="#858585" stroke="#2a2a2a" stroke-width="0.8"/>
<rect x="302.27" y="417.20" width="5.60" height="1.00" fill="#000"/>
<rect x="331.61" y="417.60" width="4.80" height="0.60" fill="#858585" stroke="#2a2a2a" stroke-width="0.8"/>
<rect x="336.81" y="417.20" width="5.60" height="1.00" fill="#000"/>
<line x1="351.28" y1="401.75" x2="351.28" y2="411.15" stroke="#333" stroke-width="0.9"/>
<line x1="349.08" y1="401.75" x2="353.47999999999996" y2="401.75" stroke="#333" stroke-width="0.9"/>
<rect x="348.88" y="411.55" width="4.80" height="6.65" fill="#858585" stroke="#2a2a2a" stroke-width="0.8"/>
<rect x="354.08" y="417.20" width="5.60" height="1.00" fill="#000"/>
<rect x="383.42" y="417.60" width="4.80" height="0.60" fill="#858585" stroke="#2a2a2a" stroke-width="0.8"/>
<rect x="388.62" y="417.20" width="5.60" height="1.00" fill="#000"/>
<rect x="400.69" y="417.60" width="4.80" height="0.60" fill="#858585" stroke="#2a2a2a" stroke-width="0.8"/>
<rect x="405.89" y="417.20" width="5.60" height="1.00" fill="#000"/>
<line x1="437.63" y1="358.3" x2="437.63" y2="379.9" stroke="#333" stroke-width="0.9"/>
<line x1="435.43" y1="358.3" x2="439.83" y2="358.3" stroke="#333" stroke-width="0.9"/>
<rect x="435.23" y="380.30" width="4.80" height="37.90" fill="#858585" stroke="#2a2a2a" stroke-width="0.8"/>
<rect x="440.43" y="417.20" width="5.60" height="1.00" fill="#000"/>
<rect x="452.50" y="417.60" width="4.80" height="0.60" fill="#858585" stroke="#2a2a2a" stroke-width="0.8"/>
<rect x="457.70" y="417.20" width="5.60" height="1.00" fill="#000"/>
<line x1="472.17" y1="414.9" x2="472.17" y2="416.2" stroke="#333" stroke-width="0.9"/>
<line x1="469.97" y1="414.9" x2="474.37" y2="414.9" stroke="#333" stroke-width="0.9"/>
<rect x="469.77" y="416.60" width="4.80" height="1.60" fill="#858585" stroke="#2a2a2a" stroke-width="0.8"/>
<rect x="474.97" y="417.20" width="5.60" height="1.00" fill="#000"/>
<rect x="487.04" y="417.60" width="4.80" height="0.60" fill="#858585" stroke="#2a2a2a" stroke-width="0.8"/>
<rect x="492.24" y="417.20" width="5.60" height="1.00" fill="#000"/>
<rect x="504.31" y="417.60" width="4.80" height="0.60" fill="#858585" stroke="#2a2a2a" stroke-width="0.8"/>
<rect x="509.51" y="417.20" width="5.60" height="1.00" fill="#000"/>
<text x="0" y="0" font-size="8.4" text-anchor="middle" transform="translate(250.2,377.0) rotate(-90)">Fraction of Input</text>
<rect x="467.30" y="348.00" width="6.40" height="6.40" fill="#858585" stroke="#2a2a2a" stroke-width="0.8"/>
<rect x="466.90" y="363.50" width="7.20" height="7.20" fill="#000"/>
<text x="478.6" y="354.6" font-size="9.8" text-anchor="start" >&#945;LMO2</text>
<text x="478.6" y="369.9" font-size="9.8" text-anchor="start" >IgG</text>
<text x="272.9" y="432.1" font-size="8.1" text-anchor="start" >prom +3kb</text>
<line x1="272.4" y1="433.8" x2="313.2" y2="433.8" stroke="#555" stroke-width="0.9"/>
<text x="277.6" y="442.2" font-size="8.1" font-style="italic" text-anchor="start" >Mc-cpa</text>
<text x="329.6" y="432.1" font-size="8.1" text-anchor="start" >-8kb prom.</text>
<line x1="327.4" y1="433.8" x2="367.8" y2="433.8" stroke="#555" stroke-width="0.9"/>
<text x="341.0" y="442.2" font-size="8.1" font-style="italic" text-anchor="start" >Sfpi 1</text>
<text x="380.5" y="432.1" font-size="8.1" text-anchor="start" >prom +7kb</text>
<line x1="380.0" y1="433.8" x2="419.0" y2="433.8" stroke="#555" stroke-width="0.9"/>
<text x="386.7" y="442.2" font-size="8.1" font-style="italic" text-anchor="start" >Fc&#949;R1-&#946;</text>
<text x="426.5" y="432.1" font-size="8.25" text-anchor="start" >-114kb prom+5  +58  +73</text>
<line x1="430.6" y1="433.8" x2="517.1" y2="433.8" stroke="#555" stroke-width="0.9"/>
<text x="467.9" y="442.2" font-size="8.1" font-style="italic" text-anchor="start" >Kit</text>
</svg>
</body></html>
